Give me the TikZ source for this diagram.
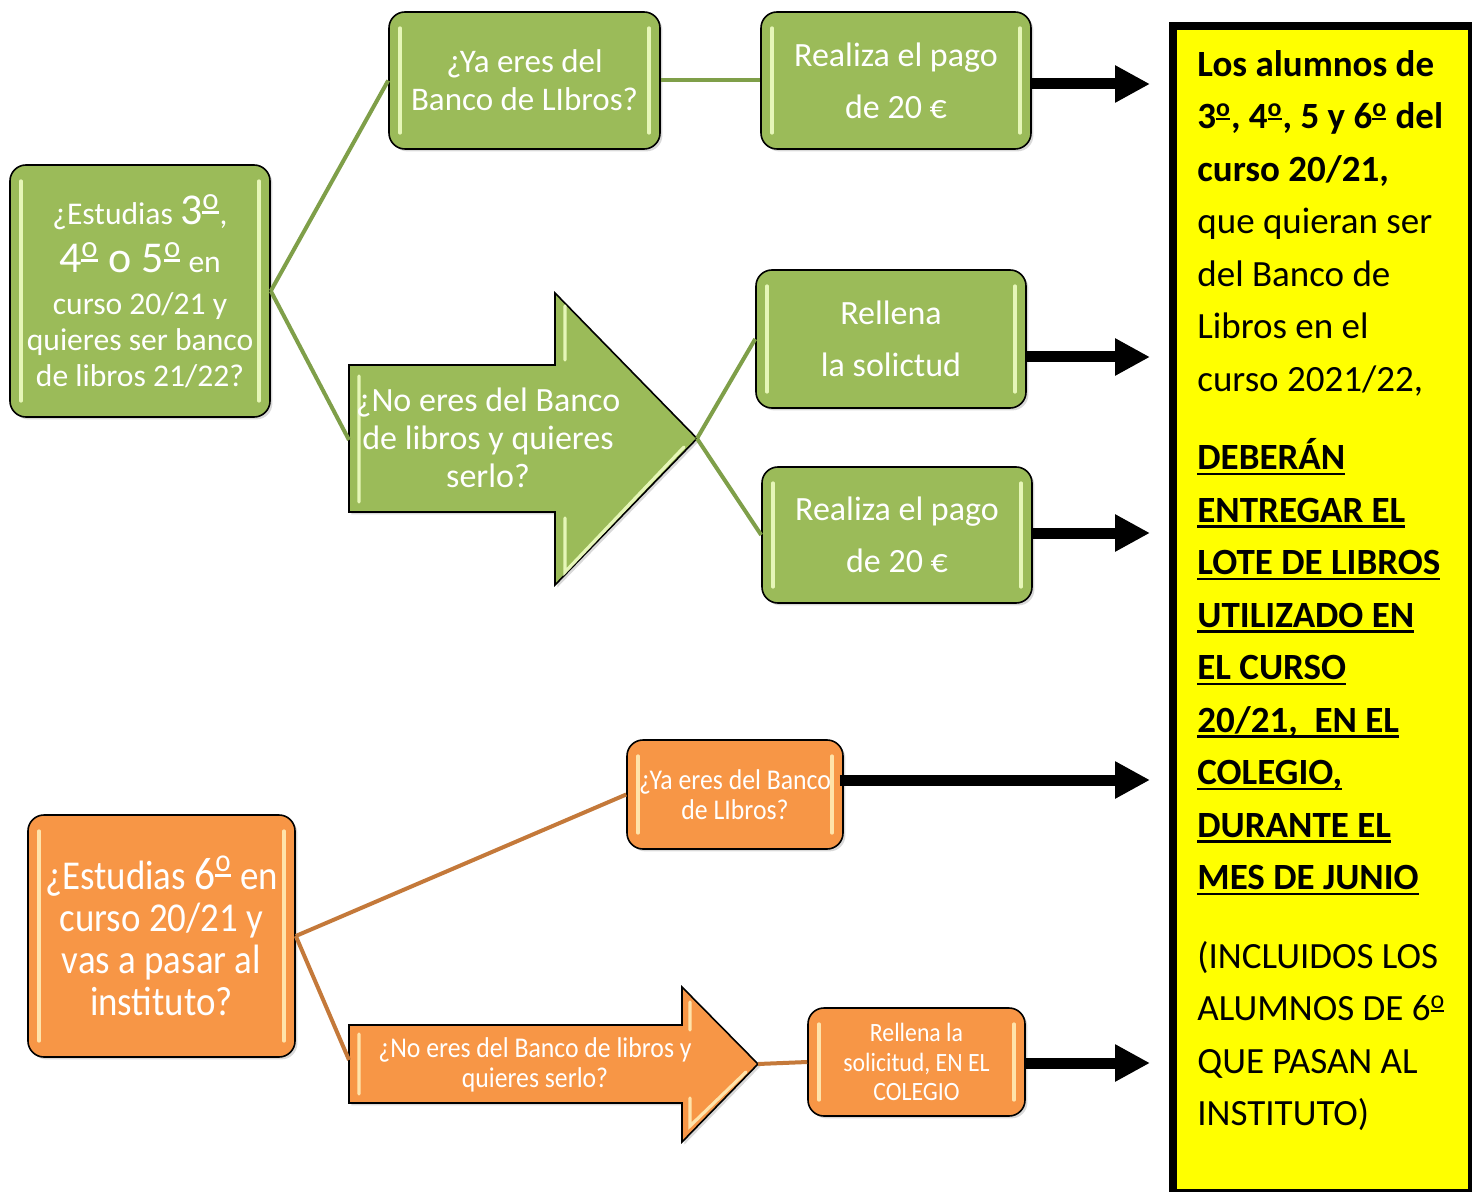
\documentclass[tikz,border=0pt]{standalone}
\usepackage{fontspec}
\setmainfont{Carlito}
\newfontfamily\narrowfont[FakeStretch=0.9]{Carlito}
\usetikzlibrary{arrows.meta,shadows}

\definecolor{boxgreen}{HTML}{9BBB59}
\definecolor{linegreen}{HTML}{7F9F49}
\definecolor{glowgreen}{HTML}{E6F6B8}
\definecolor{boxorange}{HTML}{F79646}
\definecolor{lineorange}{HTML}{C4793A}
\definecolor{gloworange}{HTML}{FFE3AA}
\definecolor{noteyellow}{HTML}{FFFF00}

% shine strips inside a box
\newcommand\glint[1]{%
  \draw[#1, line width=1.6pt, line cap=round]
    ([shift={(11,16)}]path picture bounding box.north west) -- ([shift={(11,-16)}]path picture bounding box.south west)
    ([shift={(-11,16)}]path picture bounding box.north east) -- ([shift={(-11,-16)}]path picture bounding box.south east);}

% ordinal sign with its bar
\newcommand\ordo{\textsuperscript{\setbox0\hbox{o}\rlap{\usebox0}\rule[-0.16em]{\wd0}{0.09em}}}

% underlined bold line of the note
\newcommand\ulbold[1]{\setbox0\hbox{\textbf{#1}}\rlap{\usebox0}\rule[-2.6pt]{\wd0}{1.1pt}}

\tikzset{
  softshadow/.style={drop shadow={shadow xshift=1.2pt, shadow yshift=-1.2pt, opacity=.3}},
  gbox/.style={draw=black, line width=0.8pt, fill=boxgreen, rounded corners=8pt, text=white,
    align=center, inner sep=0pt, softshadow, path picture={\glint{glowgreen}}},
  obox/.style={gbox, fill=boxorange, path picture={\glint{gloworange}}},
  gshape/.style={draw=black, line width=0.8pt, fill=boxgreen, softshadow},
  oshape/.style={gshape, fill=boxorange},
  gline/.style={linegreen, line width=2pt},
  oline/.style={lineorange, line width=2pt},
  bigarrow/.style={line width=5.5pt, -{Triangle[length=17.5pt,width=17.5pt]}},
}

\begin{document}
\begin{tikzpicture}[x=0.5pt,y=-0.5pt]
  \useasboundingbox (0,0) rectangle (1472,1192);

  % Yellow note on the right
  \fill[black] (1169,22) rectangle (1472,1192);
  \fill[noteyellow] (1177,30) rectangle (1468,1189);
  \node[anchor=north west, inner sep=0pt, align=left, font=\fontsize{18.5}{26.25}\selectfont] (nota) at (1197,50) {%
    \textbf{Los alumnos de}\\
    \textbf{3\ordo, 4\ordo, 5 y 6\ordo{} del}\\
    \textbf{curso 20/21,}\\
    que quieran ser\\
    del Banco de\\
    Libros en el\\
    curso 2021/22,\\[13pt]
    \ulbold{DEBERÁN}\\
    \ulbold{ENTREGAR EL}\\
    \ulbold{LOTE DE LIBROS}\\
    \ulbold{UTILIZADO EN}\\
    \ulbold{EL CURSO}\\
    \ulbold{20/21,\ \ EN EL}\\
    \ulbold{COLEGIO,}\\
    \ulbold{DURANTE EL}\\
    \ulbold{MES DE JUNIO}\\[13pt]
    (INCLUIDOS LOS\\
    ALUMNOS DE 6\ordo\\
    QUE PASAN AL\\
    INSTITUTO)};

  % Green branch: 3º, 4º o 5º
  \node[gbox, minimum width=130pt, minimum height=126pt, font=\fontsize{15.8}{18}\selectfont] (estudia) at (140,291)
    {¿Estudias {\fontsize{22}{22}\selectfont 3\ordo},\\[6pt]
     {\fontsize{22}{22}\selectfont 4\ordo{} o 5\ordo} en\\[3pt]
     curso 20/21 y\\
     quieres ser banco\\
     de libros 21/22?};
  \node[gbox, minimum width=135.5pt, minimum height=68.5pt, font=\fontsize{16.5}{19}\selectfont] (yaEres) at (524.5,80.5)
    {¿Ya eres del\\Banco de LIbros?};
  \node[gbox, minimum width=135pt, minimum height=68.5pt, font=\fontsize{17}{26}\selectfont] (pagoA) at (896,80.5)
    {Realiza el pago\\de 20 €};
  \node[gbox, minimum width=135pt, minimum height=69pt, font=\fontsize{17}{26}\selectfont] (rellena) at (891,339)
    {Rellena\\la solictud};
  \node[gbox, minimum width=135pt, minimum height=68pt, font=\fontsize{17}{26}\selectfont] (pagoB) at (897,535)
    {Realiza el pago\\de 20 €};

  \draw[gshape] (349,365) -- (555,365) -- (555,293) -- (697,438.5) -- (555,585) -- (555,512) -- (349,512) -- cycle;
  \draw[glowgreen, line width=1.6pt, line cap=round]
    (359,376) -- (359,502) (565,306) -- (565,360) (565,518) -- (565,572) -- (684,447);
  \coordinate (noTail) at (349,440);
  \coordinate (noTip) at (697,438.5);
  \node[text=white, align=center, font=\fontsize{17}{19}\selectfont] (noEres) at (488,438)
    {¿No eres del Banco\\de libros y quieres\\serlo?};

  \draw[gline] (estudia.east) -- (yaEres.west);
  \draw[gline] (estudia.east) -- (noTail);
  \draw[gline] (yaEres.east) -- (pagoA.west);
  \draw[gline] (noTip) -- (rellena.west);
  \draw[gline] (noTip) -- (pagoB.west);

  % Orange branch: 6º
  \node[obox, minimum width=133.5pt, minimum height=121pt, font=\narrowfont\fontsize{20.5}{21}\selectfont] (sexto) at (161.5,936)
    {¿Estudias {\fontsize{23}{21}\selectfont 6\ordo} en\\curso 20/21 y\\vas a pasar al\\instituto?};
  \node[obox, minimum width=108pt, minimum height=54.5pt, font=\narrowfont\fontsize{14.3}{15}\selectfont] (yaSexto) at (735,794.5)
    {¿Ya eres del Banco\\de LIbros?};
  \node[obox, minimum width=108.5pt, minimum height=54pt, font=\narrowfont\fontsize{13.2}{14.75}\selectfont] (rellenaCole) at (916.5,1062)
    {Rellena la\\solicitud, EN EL\\COLEGIO};

  \draw[oshape] (349,1025) -- (682,1025) -- (682,987) -- (758,1064) -- (682,1142) -- (682,1103) -- (349,1103) -- cycle;
  \draw[gloworange, line width=1.6pt, line cap=round]
    (359,1034) -- (359,1094) (690,1002) -- (690,1030) (690,1098) -- (690,1126) -- (746,1072);
  \coordinate (noSextoTail) at (349,1060);
  \coordinate (noSextoTip) at (758,1064);
  \node[text=white, align=center, font=\narrowfont\fontsize{14.3}{15}\selectfont] (noSexto) at (535,1065)
    {¿No eres del Banco de libros y\\quieres serlo?};

  \draw[oline] (sexto.east) -- (yaSexto.west);
  \draw[oline] (sexto.east) -- (noSextoTail);
  \draw[oline] (noSextoTip) -- (rellenaCole.west);

  % Black arrows to the note
  \coordinate (t1) at (1150,84);
  \coordinate (t2) at (1150,357);
  \coordinate (t3) at (1150,533);
  \coordinate (t4) at (1150,780);
  \coordinate (t5) at (1150,1063);
  \draw[bigarrow] (pagoA.east |- t1) -- (t1);
  \draw[bigarrow] (rellena.east |- t2) -- (t2);
  \draw[bigarrow] (pagoB.east |- t3) -- (t3);
  \draw[bigarrow] ([xshift=-2pt]yaSexto.east |- t4) -- (t4);
  \draw[bigarrow] (rellenaCole.east |- t5) -- (t5);
\end{tikzpicture}
\end{document}
